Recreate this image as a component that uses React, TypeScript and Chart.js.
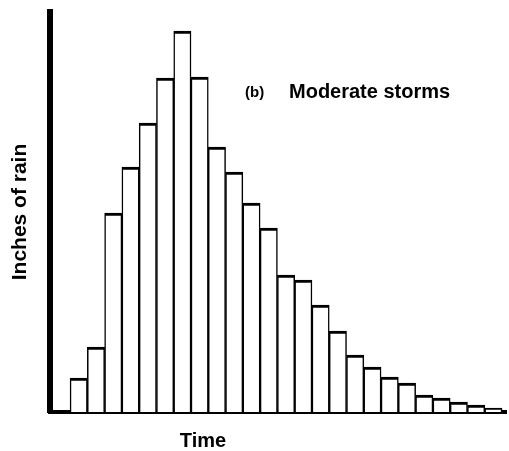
import React, { useEffect, useRef } from "react";
import { Chart, registerables } from "chart.js";

Chart.register(...registerables);

const timeSteps = [1, 2, 3, 4, 5, 6, 7, 8, 9, 10, 11, 12, 13, 14, 15, 16, 17, 18, 19, 20, 21, 22, 23, 24, 25];
const rainInches = [0.34, 0.65, 1.99, 2.45, 2.89, 3.34, 3.81, 3.35, 2.65, 2.4, 2.09, 1.84, 1.37, 1.32, 1.07, 0.81, 0.57, 0.45, 0.35, 0.29, 0.17, 0.14, 0.1, 0.07, 0.04];
const yLabel = "Inches of rain";
const xLabel = "Time";
const panelTag = "(b)";
const panelTitle = "Moderate storms";

const FONT = '"Liberation Sans", Arial, sans-serif';

const textPlugin = {
  id: "textPlugin",
  afterDraw(chart: any) {
    const ctx = chart.ctx;
    ctx.save();
    ctx.fillStyle = "#000";
    ctx.textBaseline = "alphabetic";
    ctx.textAlign = "center";
    ctx.font = `bold 20px ${FONT}`;
    ctx.fillText(xLabel, 203, 447);
    ctx.textAlign = "left";
    ctx.font = `bold 15px ${FONT}`;
    ctx.fillText(panelTag, 245, 97);
    ctx.font = `bold 20px ${FONT}`;
    ctx.fillText(panelTitle, 289, 98);
    ctx.restore();
  },
};

export default function App() {
  const ref = useRef<HTMLCanvasElement>(null);
  useEffect(() => {
    if (!ref.current) return;
    const chart = new Chart(ref.current, {
      type: "bar",
      data: {
        datasets: [
          {
            data: timeSteps.map((t, i) => ({ x: t, y: rainInches[i] })),
            backgroundColor: "#fff",
            borderColor: "#000",
            borderWidth: { top: 3, left: 1.5, right: 1.5, bottom: 0 },
            barPercentage: 1,
            categoryPercentage: 1,
          },
        ],
      },
      options: {
        responsive: false,
        animation: false,
        devicePixelRatio: 1,
        layout: { padding: { left: 0, right: 3, top: 12, bottom: 39 } },
        plugins: { legend: { display: false }, tooltip: { enabled: false } },
        scales: {
          x: {
            type: "linear",
            offset: false,
            min: -0.65,
            max: 25.73,
            ticks: { display: false },
            grid: { display: false, drawTicks: false, offset: false },
            border: { display: true, color: "#000", width: 4 },
          },
          y: {
            min: 0,
            max: 4,
            ticks: { display: false },
            grid: { display: false, drawTicks: false },
            border: { display: true, color: "#000", width: 6 },
            title: {
              display: true,
              text: yLabel,
              color: "#000",
              font: { family: FONT, size: 21, weight: "bold", lineHeight: 1.2 },
              padding: { top: 8, bottom: 17 },
            },
          },
        },
      },
      plugins: [textPlugin],
    });
    return () => chart.destroy();
  }, []);
  return (
    <div style={{ position: "fixed", left: 0, top: 0, width: 509, height: 451, background: "#fff" }}>
      <canvas ref={ref} width={509} height={451} />
    </div>
  );
}
